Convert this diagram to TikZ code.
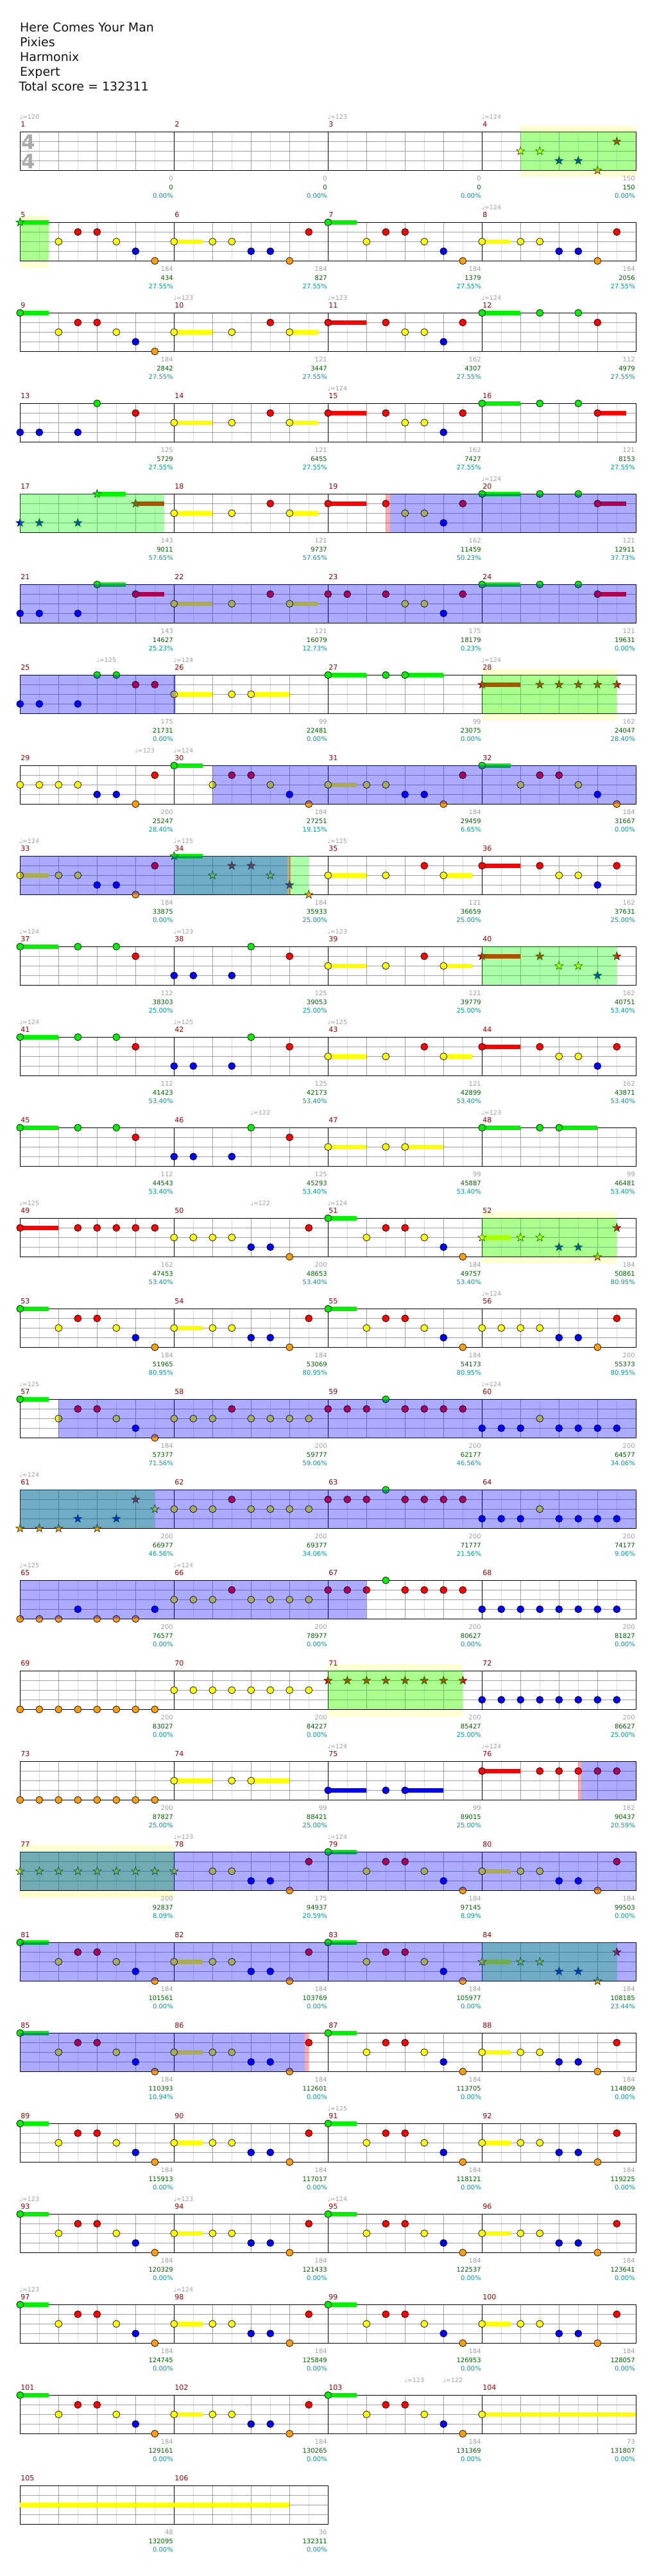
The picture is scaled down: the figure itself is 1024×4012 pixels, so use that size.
\documentclass[tikz,border=0pt]{standalone}
\usepackage{fontspec}
\setmainfont{DejaVu Sans}
\definecolor{lane0}{HTML}{00F000}
\definecolor{lane1}{HTML}{FF0000}
\definecolor{lane2}{HTML}{FFFF00}
\definecolor{lane3}{HTML}{0000FF}
\definecolor{lane4}{HTML}{FFA000}
\definecolor{mnumc}{HTML}{990000}
\definecolor{tgray}{HTML}{A0A0A0}
\definecolor{cgreen}{HTML}{006400}
\definecolor{pteal}{HTML}{009999}
\definecolor{halfc}{HTML}{DCDCDC}
\definecolor{beatc}{HTML}{A0A0A0}
\definecolor{bandc}{HTML}{FFFFD2}
\definecolor{stline}{HTML}{003300}
\definecolor{tsigc}{HTML}{AAAAAA}
\tikzset{
  halfln/.style={draw=halfc, line width=1pt},
  beatln/.style={draw=beatc, line width=1pt},
  measln/.style={draw=black, line width=1pt},
  border/.style={draw=black, line width=1.3pt},
  notehead/.style={draw=black, line width=0.7pt},
  starln/.style={draw=stline, line width=0.6pt},
  bandst/.style={fill=bandc},
  spst/.style={fill=green, fill opacity=0.33},
  odst/.style={fill=blue, fill opacity=0.33},
  pinkst/.style={fill=red, fill opacity=0.33},
  hdr/.style={anchor=base west, inner sep=0pt, text=black!92, font=\fontsize{19}{19}\selectfont},
  mnumst/.style={anchor=base west, inner sep=0pt, text=mnumc, font=\fontsize{11}{11}\selectfont},
  tempost/.style={anchor=base west, inner sep=0pt, text=tgray, font=\fontsize{9.5}{9.5}\selectfont},
  cntst/.style={anchor=base east, inner sep=0pt, text=tgray, font=\fontsize{10}{10}\selectfont},
  cumst/.style={anchor=base east, inner sep=0pt, text=cgreen, font=\fontsize{10}{10}\selectfont},
  pctst/.style={anchor=base east, inner sep=0pt, text=pteal, font=\fontsize{10}{10}\selectfont},
  tsigst/.style={anchor=base, inner sep=0pt, text=tsigc, font=\fontsize{31}{31}\selectfont\bfseries}
}
\newcommand\staffrow[2]{%
  \pgfmathsetmacro\ty{205.3+141*#1}%
  \pgfmathsetmacro\by{\ty+60}%
  \pgfmathsetmacro\rx{31.3+240*#2}%
  \pgfmathtruncatemacro\nh{4*#2-1}%
  \foreach \i in {0,...,\nh} {\draw[halfln] ({61.3+60*\i},\ty) -- ({61.3+60*\i},\by);}
  \foreach \j in {1,2,3} {\draw[beatln] (31.3,{\ty+15*\j}) -- (\rx,{\ty+15*\j});}
  \foreach \i in {1,...,\nh} {\draw[beatln] ({31.3+60*\i},\ty) -- ({31.3+60*\i},\by);}
  \foreach \i in {1,...,#2} {\draw[measln] ({31.3+240*\i},\ty) -- ({31.3+240*\i},\by);}
  \draw[border] (31.3,\ty) rectangle (\rx,\by);
}
\newcommand\rownotes[2]{%
  \edef\tmplist{#2}%
  \foreach \pp/\la/\su in \tmplist {%
    \pgfmathsetmacro\xx{31.3+30*\pp}%
    \pgfmathsetmacro\yy{205.3+141*#1+15*\la}%
    \pgfmathsetmacro\xe{31.3+30*(\pp+\su)}%
    \ifdim\su pt>0pt \fill[lane\la] (\xx,\yy-3.5) rectangle (\xe,\yy+3.5);\fi
    \filldraw[notehead, fill=lane\la] (\xx,\yy) circle[radius=5.5pt];
  }}
\newcommand\rowstars[2]{%
  \edef\tmplist{#2}%
  \foreach \pp/\la/\su in \tmplist {%
    \pgfmathsetmacro\xx{31.3+30*\pp}%
    \pgfmathsetmacro\yy{205.3+141*#1+15*\la}%
    \pgfmathsetmacro\xe{31.3+30*(\pp+\su)}%
    \ifdim\su pt>0pt \fill[lane\la] (\xx,\yy-3.5) rectangle (\xe,\yy+3.5);\fi
    \filldraw[starln, fill=lane\la, shift={(\xx,\yy)}] (90:6.8pt) -- (126:2.8pt) -- (162:6.8pt) -- (198:2.8pt) -- (234:6.8pt) -- (270:2.8pt) -- (306:6.8pt) -- (342:2.8pt) -- (18:6.8pt) -- (54:2.8pt) -- cycle;
  }}
\def\PA{0/0/1.5,2/2/0,3/1/0,4/1/0,5/2/0,6/3/0,7/4/0,8/2/1.5,10/2/0,11/2/0,12/3/0,13/3/0,14/4/0,15/1/0}
\def\PAt{2/2/0,3/1/0,4/1/0,5/2/0,6/3/0,7/4/0,8/2/1.5,10/2/0,11/2/0,12/3/0,13/3/0,14/4/0,15/1/0}
\def\PB{16/0/1.5,18/2/0,19/1/0,20/1/0,21/2/0,22/3/0,23/4/0}
\def\PC{24/2/1.5,26/2/0,27/2/0,28/3/0,29/3/0,30/4/0,31/1/0}
\def\QA{8/2/0,9/2/0,10/2/0,11/1/0,12/2/0,13/2/0,14/2/0,15/2/0,16/1/0,17/1/0,18/1/0,19/0/0,20/1/0,21/1/0,22/1/0,23/1/0}
\def\QC{24/3/0,25/3/0,26/3/0,27/2/0,28/3/0,29/3/0,30/3/0,31/3/0}
\def\MA{8/2/2,11/2/0,13/1/0,14/2/1.5,16/1/2,19/1/0,20/2/0,21/2/0,22/3/0,23/1/0,24/0/2,27/0/0,29/0/0}
\def\RA{0/0/2,3/0/0,5/0/0,6/1/0,8/3/0,9/3/0,11/3/0,12/0/0,14/1/0,16/2/2,19/2/0}
\def\RB{24/1/2,27/1/0,28/2/0,29/2/0,30/3/0,31/1/0}
\begin{document}
\begin{tikzpicture}[x=1pt,y=-1pt]
\fill[white] (0,0) rectangle (1024,4012);
\useasboundingbox (0,0) rectangle (1024,4012);
% header
\node[hdr] (h1) at (31,49.5) {Here Comes Your Man};
\node[hdr] (h2) at (31,72.5) {Pixies};
\node[hdr] (h3) at (31,95.5) {Harmonix};
\node[hdr] (h4) at (31,118.5) {Expert};
\node[hdr] (h5) at (29.5,141.5) {Total score = 132311};
% yellow bands
\foreach \k/\xa/\xb in {0/26/32,1/0/1.5,6/24/31,12/24/31,17/16/23,19/0/8}
  {\fill[bandst] ({31.3+30*\xa},{205.3+141*\k-10}) rectangle ({31.3+30*\xb},{205.3+141*\k+71});}
% staffs
\foreach \k in {0,...,25} {\staffrow{\k}{4}}
\staffrow{26}{2}
% time signature
\node[tsigst] (ts1) at (44.3,232.3) {4};
\node[tsigst] (ts2) at (44.3,262.7) {4};
% notes
\rowstars{0}{26/2/0,27/2/0,28/3/0,29/3/0,30/4/0,31/1/0}
\rowstars{1}{0/0/1.5}
\rownotes{1}{\PAt,\PB,\PC}
\rownotes{2}{0/0/1.5,2/2/0,3/1/0,4/1/0,5/2/0,6/3/0,7/4/0,\MA,30/1/0}
\rownotes{3}{0/3/0,1/3/0,3/3/0,4/0/0,6/1/0,\MA,30/1/1.5}
\rowstars{4}{0/3/0,1/3/0,3/3/0,4/0/1.5,6/1/1.5}
\rownotes{4}{\MA,30/1/1.5}
\rownotes{5}{0/3/0,1/3/0,3/3/0,4/0/1.5,6/1/1.5,8/2/2,11/2/0,13/1/0,14/2/1.5,16/1/0,17/1/0,19/1/0,20/2/0,21/2/0,22/3/0,23/1/0,24/0/2,27/0/0,29/0/0,30/1/1.5}
\rownotes{6}{0/3/0,1/3/0,3/3/0,4/0/0,5/0/0,6/1/0,7/1/0,8/2/2,11/2/0,12/2/2,16/0/2,19/0/0,20/0/2}
\rowstars{6}{24/1/2,27/1/0,28/1/0,29/1/0,30/1/0,31/1/0}
\rownotes{7}{0/2/0,1/2/0,2/2/0,3/2/0,4/3/0,5/3/0,6/4/0,7/1/0,8/0/1.5,10/2/0,11/1/0,12/1/0,13/2/0,14/3/0,15/4/0,16/2/1.5,18/2/0,19/2/0,20/3/0,21/3/0,22/4/0,23/1/0,24/0/1.5,26/2/0,27/1/0,28/1/0,29/2/0,30/3/0,31/4/0}
\rownotes{8}{0/2/1.5,2/2/0,3/2/0,4/3/0,5/3/0,6/4/0,7/1/0,16/2/2,19/2/0,21/1/0,22/2/1.5,\RB}
\rowstars{8}{8/0/1.5,10/2/0,11/1/0,12/1/0,13/2/0,14/3/0,15/4/0}
\rownotes{9}{\RA,21/1/0,22/2/1.5}
\rowstars{9}{\RB}
\rownotes{10}{\RA,21/1/0,22/2/1.5,\RB}
\rownotes{11}{\RA,20/2/2,24/0/2,27/0/0,28/0/2}
\rownotes{12}{0/1/2,3/1/0,4/1/0,5/1/0,6/1/0,7/1/0,8/2/0,9/2/0,10/2/0,11/2/0,12/3/0,13/3/0,14/4/0,15/1/0,\PB}
\rowstars{12}{\PC}
\rownotes{13}{\PA,\PB,24/2/0,25/2/0,26/2/0,27/2/0,28/3/0,29/3/0,30/4/0,31/1/0}
\rownotes{14}{0/0/1.5,2/2/0,3/1/0,4/1/0,5/2/0,6/3/0,7/4/0,\QA,\QC}
\rowstars{15}{0/4/0,1/4/0,2/4/0,3/3/0,4/4/0,5/3/0,6/1/0,7/2/0}
\rownotes{15}{\QA,\QC}
\rownotes{16}{0/4/0,1/4/0,2/4/0,3/3/0,4/4/0,5/4/0,6/4/0,7/3/0,\QA,24/3/0,25/3/0,26/3/0,27/3/0,28/3/0,29/3/0,30/3/0,31/3/0}
\rownotes{17}{0/4/0,1/4/0,2/4/0,3/4/0,4/4/0,5/4/0,6/4/0,7/4/0,8/2/0,9/2/0,10/2/0,11/2/0,12/2/0,13/2/0,14/2/0,15/2/0,24/3/0,25/3/0,26/3/0,27/3/0,28/3/0,29/3/0,30/3/0,31/3/0}
\rowstars{17}{16/1/0,17/1/0,18/1/0,19/1/0,20/1/0,21/1/0,22/1/0,23/1/0}
\rownotes{18}{0/4/0,1/4/0,2/4/0,3/4/0,4/4/0,5/4/0,6/4/0,7/4/0,8/2/2,11/2/0,12/2/2,16/3/2,19/3/0,20/3/2,24/1/2,27/1/0,28/1/0,29/1/0,30/1/0,31/1/0}
\rowstars{19}{0/2/0,1/2/0,2/2/0,3/2/0,4/2/0,5/2/0,6/2/0,7/2/0,8/2/0}
\rownotes{19}{10/2/0,11/2/0,12/3/0,13/3/0,14/4/0,15/1/0,\PB,\PC}
\rownotes{20}{\PA,\PB}
\rowstars{20}{\PC}
\foreach \k in {21,22,23,24} {\rownotes{\k}{\PA,\PB,\PC}}
\rownotes{25}{\PA,\PB,24/2/8}
\fill[lane2] (31.3,{3871.3+30-3.5}) rectangle (451.3,{3871.3+30+3.5});
% star power regions
\foreach \k/\xa/\xb in {0/26/32,1/0/1.5,4/0/7.5,6/24/31,8/8/15,9/24/31,12/24/31,15/0/7,17/16/23,19/0/8,20/24/31}
  {\fill[spst] ({31.3+30*\xa},{205.3+141*\k}) rectangle ({31.3+30*\xb},{205.3+141*\k+60});}
% overdrive regions
\foreach \k/\xa/\xb in {4/19.22/32,5/0/32,6/0/8.1,7/10/32,8/0/13.89,14/2/32,15/0/32,16/0/18,18/29.15/32,19/0/32,20/0/32,21/0/14.78}
  {\fill[odst] ({31.3+30*\xa},{205.3+141*\k}) rectangle ({31.3+30*\xb},{205.3+141*\k+60});}
\foreach \k/\xa/\xb in {4/19/19.22,8/13.89/14.05,18/29/29.15,21/14.78/15}
  {\fill[pinkst] ({31.3+30*\xa},{205.3+141*\k}) rectangle ({31.3+30*\xb},{205.3+141*\k+60});}
% tempo marks
\foreach \k/\pp/\tt in {0/0/120,0/16/123,0/24/124,1/24/124,2/8/123,2/16/123,2/24/124,3/16/124,4/24/124,6/4/125,6/8/124,6/24/124,7/6/123,7/8/124,8/0/124,8/8/125,8/16/125,9/0/124,9/8/123,9/16/123,10/0/124,10/8/125,10/16/125,11/12/122,11/24/123,12/0/125,12/12/122,12/16/124,13/24/124,14/0/125,14/24/124,15/0/124,16/0/125,16/8/124,18/16/124,18/24/124,19/8/123,19/16/124,22/16/125,23/0/123,23/8/123,23/16/124,24/0/123,24/8/124,25/20/123,25/22/122}
  {\node[tempost] (t-\k-\pp) at ({31.3+30*\pp-1},{205.3+141*\k-20}) {♩=\tt};}
% measure labels
\foreach \mm/\va/\vb/\vp in {1/0/0/0.00,2/0/0/0.00,3/0/0/0.00,4/150/150/0.00,5/184/434/27.55,6/184/827/27.55,7/184/1379/27.55,8/184/2056/27.55,9/184/2842/27.55,10/121/3447/27.55,11/162/4307/27.55,12/112/4979/27.55,13/125/5729/27.55,14/121/6455/27.55,15/162/7427/27.55,16/121/8153/27.55,17/143/9011/57.65,18/121/9737/57.65,19/162/11459/50.23,20/121/12911/37.73,21/143/14627/25.23,22/121/16079/12.73,23/175/18179/0.23,24/121/19631/0.00,25/175/21731/0.00,26/99/22481/0.00,27/99/23075/0.00,28/162/24047/28.40,29/200/25247/28.40,30/184/27251/19.15,31/184/29459/6.65,32/184/31667/0.00,33/184/33875/0.00,34/184/35933/25.00,35/121/36659/25.00,36/162/37631/25.00,37/112/38303/25.00,38/125/39053/25.00,39/121/39779/25.00,40/162/40751/53.40,41/112/41423/53.40,42/125/42173/53.40,43/121/42899/53.40,44/162/43871/53.40,45/112/44543/53.40,46/125/45293/53.40,47/99/45887/53.40,48/99/46481/53.40,49/162/47453/53.40,50/200/48653/53.40,51/184/49757/53.40,52/184/50861/80.95,53/184/51965/80.95,54/184/53069/80.95,55/184/54173/80.95,56/200/55373/80.95,57/184/57377/71.56,58/200/59777/59.06,59/200/62177/46.56,60/200/64577/34.06,61/200/66977/46.56,62/200/69377/34.06,63/200/71777/21.56,64/200/74177/9.06,65/200/76577/0.00,66/200/78977/0.00,67/200/80627/0.00,68/200/81827/0.00,69/200/83027/0.00,70/200/84227/0.00,71/200/85427/25.00,72/200/86627/25.00,73/200/87827/25.00,74/99/88421/25.00,75/99/89015/25.00,76/162/90437/20.59,77/200/92837/8.09,78/175/94937/20.59,79/184/97145/8.09,80/184/99503/0.00,81/184/101561/0.00,82/184/103769/0.00,83/184/105977/0.00,84/184/108185/23.44,85/184/110393/10.94,86/184/112601/0.00,87/184/113705/0.00,88/184/114809/0.00,89/184/115913/0.00,90/184/117017/0.00,91/184/118121/0.00,92/184/119225/0.00,93/184/120329/0.00,94/184/121433/0.00,95/184/122537/0.00,96/184/123641/0.00,97/184/124745/0.00,98/184/125849/0.00,99/184/126953/0.00,100/184/128057/0.00,101/184/129161/0.00,102/184/130265/0.00,103/184/131369/0.00,104/73/131807/0.00,105/48/132095/0.00,106/36/132311/0.00}
{%
  \pgfmathtruncatemacro\rk{(\mm-1)/4}%
  \pgfmathtruncatemacro\cl{\mm-1-4*\rk}%
  \pgfmathsetmacro\ty{205.3+141*\rk}%
  \pgfmathsetmacro\xs{31.3+240*\cl}%
  \node[mnumst] (m\mm) at (\xs+0.8,\ty-7.6) {\mm};
  \node[cntst] (a\mm) at (\xs+238.7,\ty+76.4) {\va};
  \node[cumst] (b\mm) at (\xs+238.7,\ty+89.7) {\vb};
  \node[pctst] (c\mm) at (\xs+238.7,\ty+102.7) {\vp\%};
}
\end{tikzpicture}
\end{document}
